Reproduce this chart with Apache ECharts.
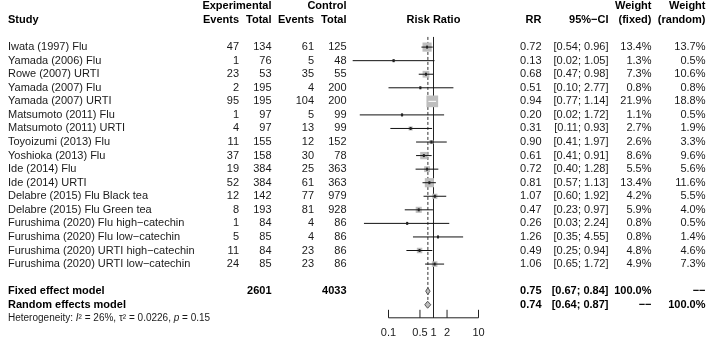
<!DOCTYPE html>
<html><head><meta charset="utf-8">
<script src="https://cdn.jsdelivr.net/npm/echarts@6/dist/echarts.min.js"></script>
<style>html,body{margin:0;padding:0;background:#fff}#c{width:708px;height:340px}</style>
</head><body><div id="c"></div>
<script>
// ---------- data ----------
const studies = [
  "Iwata (1997) Flu","Yamada (2006) Flu","Rowe (2007) URTI","Yamada (2007) Flu","Yamada (2007) URTI",
  "Matsumoto (2011) Flu","Matsumoto (2011) URTI","Toyoizumi (2013) Flu","Yoshioka (2013) Flu",
  "Ide (2014) Flu","Ide (2014) URTI","Delabre (2015) Flu Black tea","Delabre (2015) Flu Green tea",
  "Furushima (2020) Flu high\u2212catechin","Furushima (2020) Flu low\u2212catechin",
  "Furushima (2020) URTI high\u2212catechin","Furushima (2020) URTI low\u2212catechin"
];
const expEvents  = [47, 1, 23, 2, 95, 1, 4, 11, 37, 19, 52, 12, 8, 1, 5, 11, 24];
const expTotal   = [134, 76, 53, 195, 195, 97, 97, 155, 158, 384, 384, 142, 193, 84, 85, 84, 85];
const ctrlEvents = [61, 5, 35, 4, 104, 5, 13, 12, 30, 25, 61, 77, 81, 4, 4, 23, 23];
const ctrlTotal  = [125, 48, 55, 200, 200, 99, 99, 152, 78, 363, 363, 979, 928, 86, 86, 86, 86];
const rr         = [0.72, 0.13, 0.68, 0.51, 0.94, 0.20, 0.31, 0.90, 0.61, 0.72, 0.81, 1.07, 0.47, 0.26, 1.26, 0.49, 1.06];
const lower      = [0.54, 0.016, 0.47, 0.10, 0.77, 0.023, 0.11, 0.41, 0.41, 0.40, 0.57, 0.60, 0.23, 0.0285, 0.35, 0.25, 0.65];
const upper      = [0.96, 1.05, 0.98, 2.77, 1.14, 1.72, 0.93, 1.97, 0.91, 1.28, 1.13, 1.92, 0.97, 2.24, 4.55, 0.94, 1.72];
const wFixed     = [13.4, 1.3, 7.3, 0.8, 21.9, 1.1, 2.7, 2.6, 8.6, 5.5, 13.4, 4.2, 5.9, 0.8, 0.8, 4.8, 4.9];
const wRandom    = [13.7, 0.5, 10.6, 0.8, 18.8, 0.5, 1.9, 3.3, 9.6, 5.6, 11.6, 5.5, 4.0, 0.5, 1.4, 4.6, 7.3];

const modelNames   = ["Fixed effect model", "Random effects model"];
const modelExpTot  = ["2601", ""];
const modelCtrlTot = ["4033", ""];
const modelRR      = [0.75, 0.74];
const modelLower   = [0.67, 0.64];
const modelUpper   = [0.84, 0.87];
const modelWFixed  = ["100.0%", "\u2212\u2212"];
const modelWRandom = ["\u2212\u2212", "100.0%"];

const tickValues = [0.1, 0.5, 1, 2, 10];
const tickLabels = ["0.1", "0.5", "1", "2", "10"];

// ---------- layout ----------
const FONT = '"Liberation Sans", Arial, Helvetica, sans-serif';
const TXT = '#1a1a1a';
const COL = {study: 8, expE: 239, expT: 271.5, ctlE: 314, ctlT: 346.5, rr: 541.5, ci: 608.5, wf: 651.5, wr: 705.5, plot: 433.5};
const N = studies.length;
const ROW_FIXED = N + 1, ROW_RANDOM = N + 2, ROW_AXIS = N + 3;

function txt(x, y, s, opt) {
  return {type: 'text', x: x, y: y, silent: true,
    style: Object.assign({text: s, fill: TXT, fontSize: 11, fontFamily: FONT, align: 'right', verticalAlign: 'middle'}, opt || {})};
}
const f2 = v => v.toFixed(2);
const ci = (l, u) => '[' + f2(l) + '; ' + f2(u) + ']';

const chart = echarts.init(document.getElementById('c'));

chart.setOption({
  animation: false,
  grid: {left: 343.5, width: 135, top: 1, height: 342.5},
  xAxis: {type: 'log', logBase: 10, min: 0.01, max: 10, show: false},
  yAxis: {type: 'value', inverse: true, min: -3.4, max: 21.6, show: false},
  series: [
    // header + table text for studies
    {
      type: 'custom', clip: false, silent: true,
      data: studies.map((s, i) => [1, i]),
      renderItem: function (params, api) {
        const i = params.dataIndex;
        const y = api.coord([1, i])[1];
        const ch = [
          txt(COL.study, y, studies[i], {align: 'left'}),
          txt(COL.expE, y, String(expEvents[i])),
          txt(COL.expT, y, String(expTotal[i])),
          txt(COL.ctlE, y, String(ctrlEvents[i])),
          txt(COL.ctlT, y, String(ctrlTotal[i])),
          txt(COL.rr, y, f2(rr[i])),
          txt(COL.ci, y, ci(lower[i], upper[i])),
          txt(COL.wf, y, wFixed[i].toFixed(1) + '%'),
          txt(COL.wr, y, wRandom[i].toFixed(1) + '%')
        ];
        if (i === 0) {
          const y1 = api.coord([1, -3])[1], y2 = api.coord([1, -2])[1];
          const B = {fontWeight: 'bold', fill: '#000'};
          ch.push(
            txt(COL.expT, y1, 'Experimental', B),
            txt(COL.ctlT, y1, 'Control', B),
            txt(COL.wf, y1, 'Weight', B),
            txt(COL.wr, y1, 'Weight', B),
            txt(COL.study, y2, 'Study', Object.assign({align: 'left'}, B)),
            txt(COL.expE, y2, 'Events', B),
            txt(COL.expT, y2, 'Total', B),
            txt(COL.ctlE, y2, 'Events', B),
            txt(COL.ctlT, y2, 'Total', B),
            txt(COL.plot, y2, 'Risk Ratio', Object.assign({align: 'center'}, B)),
            txt(COL.rr, y2, 'RR', B),
            txt(COL.ci, y2, '95%\u2212CI', B),
            txt(COL.wf, y2, '(fixed)', B),
            txt(COL.wr, y2, '(random)', B)
          );
        }
        return {type: 'group', children: ch};
      }
    },
    // reference lines + axis
    {
      type: 'custom', clip: false, silent: true, z: 1,
      data: [[1, 0]],
      renderItem: function (params, api) {
        const top = api.coord([1, -0.75])[1];
        const yAx = api.coord([1, ROW_AXIS])[1] - 0.5;
        const yRnd = api.coord([1, ROW_RANDOM])[1];
        const x1 = api.coord([1, 0])[0];
        const xf = api.coord([modelRR[0], 0])[0];
        const ch = [
          {type: 'line', shape: {x1: x1, y1: top, x2: x1, y2: yAx}, style: {stroke: '#222', lineWidth: 1}},
          {type: 'line', shape: {x1: xf, y1: top, x2: xf, y2: yRnd}, style: {stroke: '#333', lineWidth: 1, lineDash: [3, 2]}},
          {type: 'line', shape: {x1: api.coord([tickValues[0], 0])[0], y1: yAx, x2: api.coord([tickValues[tickValues.length - 1], 0])[0], y2: yAx}, style: {stroke: '#222', lineWidth: 1}}
        ];
        tickValues.forEach((v, k) => {
          const x = api.coord([v, 0])[0];
          ch.push({type: 'line', shape: {x1: x, y1: yAx, x2: x, y2: yAx - 8}, style: {stroke: '#222', lineWidth: 1}});
          ch.push(txt(x, yAx + 15, tickLabels[k], {align: 'center'}));
        });
        return {type: 'group', children: ch};
      }
    },
    // study squares and CIs
    {
      type: 'custom', clip: false, silent: true, z: 3,
      data: rr.map((v, i) => [v, i]),
      renderItem: function (params, api) {
        const i = params.dataIndex;
        const c = api.coord([rr[i], i]);
        const lo = api.coord([lower[i], i]);
        const hi = api.coord([upper[i], i]);
        const s = 2.5 * Math.sqrt(wFixed[i]);
        const inside = lo[0] >= c[0] - s / 2 && hi[0] <= c[0] + s / 2;
        const ch = [
          {type: 'rect', shape: {x: c[0] - s / 2, y: c[1] - s / 2, width: s, height: s}, style: {fill: '#bebebe'}},
          {type: 'line', shape: {x1: lo[0], y1: c[1], x2: hi[0], y2: c[1]}, style: {stroke: inside ? '#fff' : '#111', lineWidth: 1}}
        ];
        if (!inside) ch.push({type: 'rect', shape: {x: c[0] - 1, y: c[1] - 1.5, width: 2, height: 3}, style: {fill: '#222'}});
        return {type: 'group', children: ch};
      }
    },
    // models: text + diamonds
    {
      type: 'custom', clip: false, silent: true, z: 3,
      data: modelRR.map((v, k) => [v, N + 1 + k]),
      renderItem: function (params, api) {
        const k = params.dataIndex;
        const row = N + 1 + k;
        const c = api.coord([modelRR[k], row]);
        const lo = api.coord([modelLower[k], row]);
        const hi = api.coord([modelUpper[k], row]);
        const B = {fontWeight: 'bold', fill: '#000'};
        const h = 3.5;
        const ch = [
          {type: 'polygon', shape: {points: [[lo[0], c[1]], [c[0], c[1] - h], [hi[0], c[1]], [c[0], c[1] + h]]},
            style: {fill: '#bebebe', stroke: '#555', lineWidth: 1}},
          txt(COL.study, c[1], modelNames[k], Object.assign({align: 'left'}, B)),
          txt(COL.expT, c[1], modelExpTot[k], B),
          txt(COL.ctlT, c[1], modelCtrlTot[k], B),
          txt(COL.rr, c[1], f2(modelRR[k]), B),
          txt(COL.ci, c[1], ci(modelLower[k], modelUpper[k]), B),
          txt(COL.wf, c[1], modelWFixed[k], B),
          txt(COL.wr, c[1], modelWRandom[k], B)
        ];
        if (k === 0) {
          const yh = api.coord([1, ROW_AXIS])[1];
          ch.push({type: 'text', x: COL.study, y: yh, silent: true, style: {
            text: 'Heterogeneity: {i|I}\u00b2 = 26%, \u03c4\u00b2 = 0.0226, {i|p} = 0.15',
            fill: TXT, fontSize: 10, fontFamily: FONT, align: 'left', verticalAlign: 'middle',
            rich: {i: {fontStyle: 'italic', fontSize: 10, fontFamily: FONT, fill: TXT}}
          }});
        }
        return {type: 'group', children: ch};
      }
    }
  ]
});
</script>
</body></html>
